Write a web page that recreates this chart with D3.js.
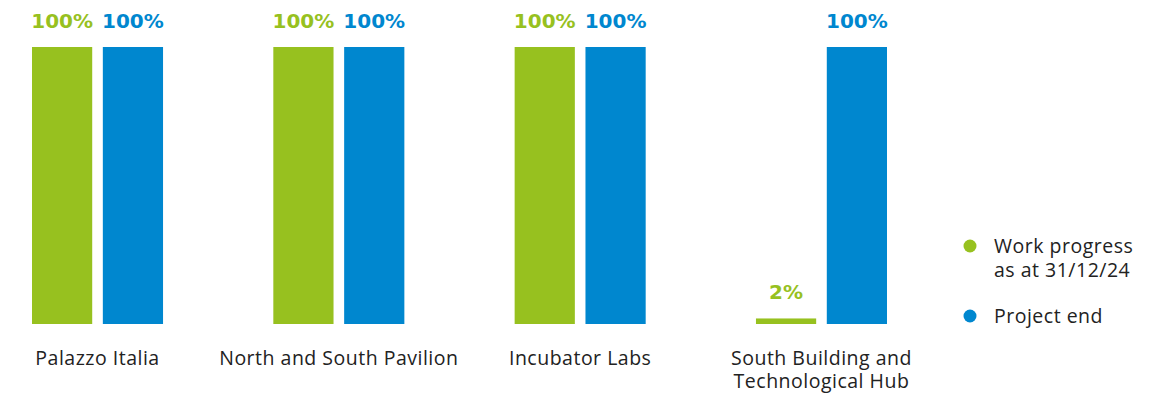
<!DOCTYPE html>
<html>
<head>
<meta charset="utf-8">
<script src="https://cdn.jsdelivr.net/npm/d3@7"></script>
<style>
  html, body { margin: 0; padding: 0; background: #fff; }
  svg { display: block; }
  text { font-family: "Open Sans", "Noto Sans", sans-serif; }
  text.val { font-family: "DejaVu Sans", sans-serif; }
</style>
</head>
<body>
<svg id="chart" width="1160" height="395"></svg>
<script>
// Projects and their completion percentages
const categories = [
  ["Palazzo Italia"],
  ["North and South Pavilion"],
  ["Incubator Labs"],
  ["South Building and", "Technological Hub"]
];
const seriesNames = ["Work progress as at 31/12/24", "Project end"];
const legendLines = [["Work progress", "as at 31/12/24"], ["Project end"]];
const workProgress = [100, 100, 100, 2];
const projectEnd = [100, 100, 100, 100];
const colors = ["#97c11f", "#0087cf"];

const svg = d3.select("#chart");
const catKeys = categories.map(c => c.join(" "));

const x0 = d3.scaleBand().domain(catKeys).range([32, 887]).paddingInner(0.457).paddingOuter(0);
const x1 = d3.scaleBand().domain(seriesNames).range([0, x0.bandwidth()]).paddingInner(0.15).paddingOuter(0);
const y = d3.scaleLinear().domain([0, 100]).range([324, 47]);

const rows = catKeys.map((k, i) => ({
  key: k,
  lines: categories[i],
  values: [workProgress[i], projectEnd[i]]
}));

const groups = svg.selectAll("g.group").data(rows).join("g")
  .attr("class", "group")
  .attr("transform", d => `translate(${x0(d.key)},0)`);

groups.selectAll("rect").data(d => d.values.map((v, j) => ({ v, s: seriesNames[j], c: colors[j] })))
  .join("rect")
  .attr("x", d => x1(d.s))
  .attr("y", d => y(d.v))
  .attr("width", x1.bandwidth())
  .attr("height", d => y(0) - y(d.v))
  .attr("fill", d => d.c);

groups.selectAll("text.val").data(d => d.values.map((v, j) => ({ v, s: seriesNames[j], c: colors[j] })))
  .join("text")
  .attr("class", "val")
  .attr("x", d => x1(d.s) + x1.bandwidth() / 2)
  .attr("y", d => y(d.v) - 19)
  .attr("text-anchor", "middle")
  .attr("font-size", 20)
  .attr("font-weight", 700)
  .attr("fill", d => d.c)
  .text(d => d.v + "%");

// Category labels under each pair of bars
groups.append("text")
  .attr("class", "cat")
  .attr("x", x0.bandwidth() / 2)
  .attr("y", 365)
  .attr("text-anchor", "middle")
  .attr("font-size", 19.5)
  .attr("letter-spacing", 0.5)
  .attr("fill", "#222")
  .selectAll("tspan").data(d => d.lines).join("tspan")
  .attr("x", x0.bandwidth() / 2)
  .attr("dy", (d, i) => i === 0 ? 0 : 23)
  .text(d => d);

// Legend
const legendY = [246, 316];
const legend = svg.selectAll("g.legend").data(seriesNames).join("g")
  .attr("class", "legend")
  .attr("transform", (d, i) => `translate(970,${legendY[i]})`);
legend.append("circle").attr("r", 6.5).attr("fill", (d, i) => colors[i]);
legend.append("text")
  .attr("font-size", 19.5)
  .attr("letter-spacing", 0.5)
  .attr("fill", "#222")
  .selectAll("tspan").data((d, i) => legendLines[i]).join("tspan")
  .attr("x", 24)
  .attr("y", (d, i) => 7 + i * 24)
  .text(d => d);
</script>
</body>
</html>
